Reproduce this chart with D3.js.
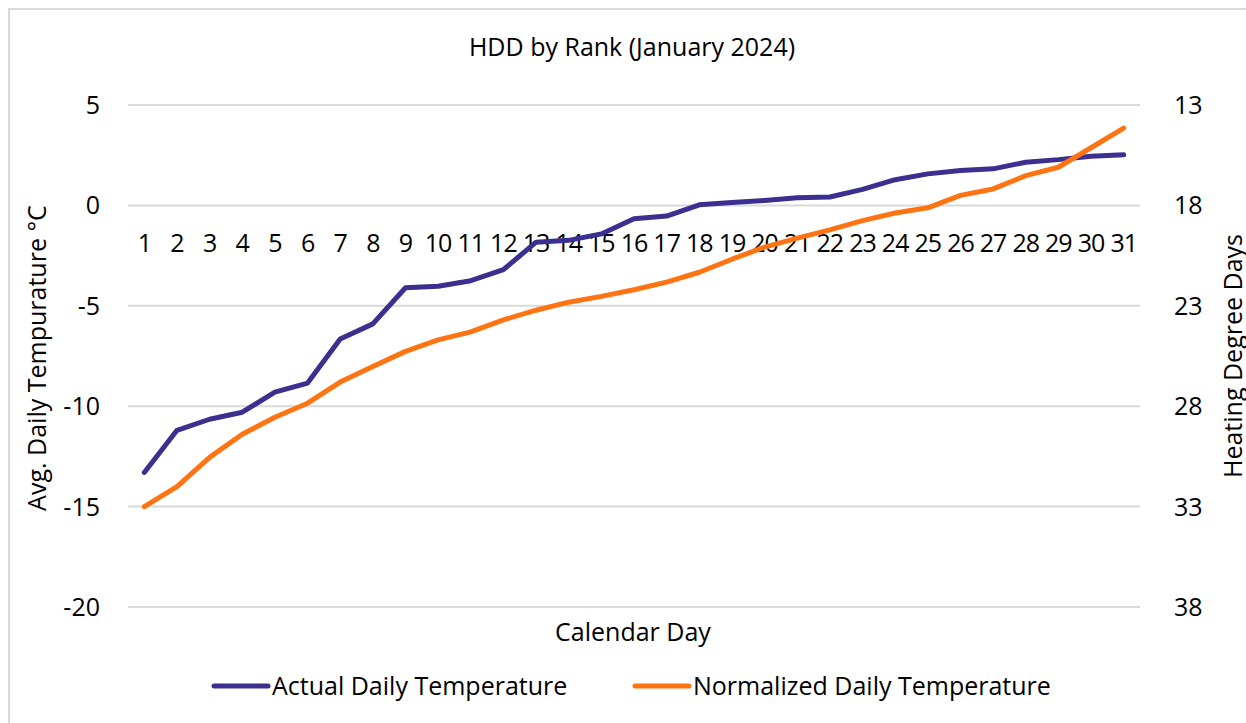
<!DOCTYPE html>
<html>
<head>
<meta charset="utf-8">
<script src="https://cdn.jsdelivr.net/npm/d3@7"></script>
<style>
  body { margin: 0; background: #fff; }
  svg { display: block; font-family: "Open Sans", Lato, sans-serif; }
</style>
</head>
<body>
<svg id="mychart" width="1246" height="723"></svg>
<script>
// calendar day rank
const days = d3.range(1, 32);
// avg daily temperature, sorted coldest first (°C)
const actualTemp = [-13.3, -11.2, -10.65, -10.3, -9.3, -8.85, -6.65, -5.9, -4.1, -4.03, -3.75,
  -3.2, -1.83, -1.74, -1.42, -0.66, -0.53, 0.03, 0.15, 0.25, 0.38, 0.42, 0.8,
  1.28, 1.57, 1.74, 1.82, 2.15, 2.28, 2.45, 2.52];
const normalTemp = [-15.0, -14.0, -12.55, -11.4, -10.55, -9.85, -8.8, -8.02, -7.27, -6.7, -6.3,
  -5.7, -5.22, -4.82, -4.53, -4.2, -3.82, -3.33, -2.68, -2.08, -1.63, -1.22, -0.76,
  -0.38, -0.12, 0.5, 0.82, 1.48, 1.9, 2.87, 3.85];
const tempTicks = [5, 0, -5, -10, -15, -20];
const hddTicks = [13, 18, 23, 28, 33, 38];

const seriesNames = ["Actual Daily Temperature", "Normalized Daily Temperature"];
const colors = ["#3b2f8f", "#ff7412"];

const svg = d3.select("#mychart");
const fontSize = 25;

// chart area border (runs off the right and bottom edge)
svg.append("rect")
  .attr("x", 9).attr("y", 9)
  .attr("width", 1260).attr("height", 730)
  .attr("fill", "none").attr("stroke", "#d9d9d9").attr("stroke-width", 2);

const x = d3.scalePoint().domain(days).range([128, 1140]).padding(0.5);
const y = d3.scaleLinear().domain([-20, 5]).range([607, 105]);
const yHdd = d3.scaleLinear().domain([38, 13]).range([607, 105]);

// gridlines
svg.append("g")
  .selectAll("line")
  .data(tempTicks)
  .join("line")
  .attr("x1", 128).attr("x2", 1140)
  .attr("y1", d => y(d)).attr("y2", d => y(d))
  .attr("stroke", "#d9d9d9").attr("stroke-width", 2);

// left axis labels
svg.append("g")
  .selectAll("text")
  .data(tempTicks)
  .join("text")
  .attr("x", 100).attr("y", d => y(d))
  .attr("dy", "0.36em")
  .attr("text-anchor", "end")
  .attr("font-size", fontSize)
  .text(d => d);

// right axis labels
svg.append("g")
  .selectAll("text")
  .data(hddTicks)
  .join("text")
  .attr("x", 1174).attr("y", d => yHdd(d))
  .attr("dy", "0.36em")
  .attr("font-size", fontSize)
  .text(d => d);

// category labels sit under the 0 line
svg.append("g")
  .selectAll("text")
  .data(days)
  .join("text")
  .attr("x", d => x(d)).attr("y", y(0) + 38)
  .attr("dy", "0.36em")
  .attr("text-anchor", "middle")
  .attr("font-size", fontSize)
  .attr("letter-spacing", -1)
  .text(d => d);

// lines
const line = d3.line()
  .x((d, i) => x(days[i]))
  .y(d => y(d));

svg.append("g")
  .selectAll("path")
  .data([actualTemp, normalTemp])
  .join("path")
  .attr("d", d => line(d))
  .attr("fill", "none")
  .attr("stroke", (d, i) => colors[i])
  .attr("stroke-width", 5)
  .attr("stroke-linejoin", "round")
  .attr("stroke-linecap", "round");

// titles
svg.append("text")
  .attr("x", 632).attr("y", 47).attr("dy", "0.36em")
  .attr("text-anchor", "middle").attr("font-size", fontSize)
  .text("HDD by Rank (January 2024)");

svg.append("text")
  .attr("x", 633).attr("y", 632).attr("dy", "0.36em")
  .attr("text-anchor", "middle").attr("font-size", fontSize)
  .text("Calendar Day");

svg.append("text")
  .attr("transform", "translate(46,358) rotate(-90)")
  .attr("text-anchor", "middle").attr("font-size", fontSize)
  .text("Avg. Daily Tempurature °C");

svg.append("text")
  .attr("transform", "translate(1242,356) rotate(-90)")
  .attr("text-anchor", "middle").attr("font-size", fontSize)
  .text("Heating Degree Days");

// legend
const legendX = [214, 635];
const legend = svg.append("g")
  .selectAll("g")
  .data(seriesNames)
  .join("g")
  .attr("transform", (d, i) => `translate(${legendX[i]},686)`);

legend.append("line")
  .attr("x1", 0).attr("x2", 54)
  .attr("stroke", (d, i) => colors[i])
  .attr("stroke-width", 5)
  .attr("stroke-linecap", "round");

legend.append("text")
  .attr("x", 58).attr("dy", "0.36em")
  .attr("font-size", fontSize)
  .text(d => d);
</script>
</body>
</html>
